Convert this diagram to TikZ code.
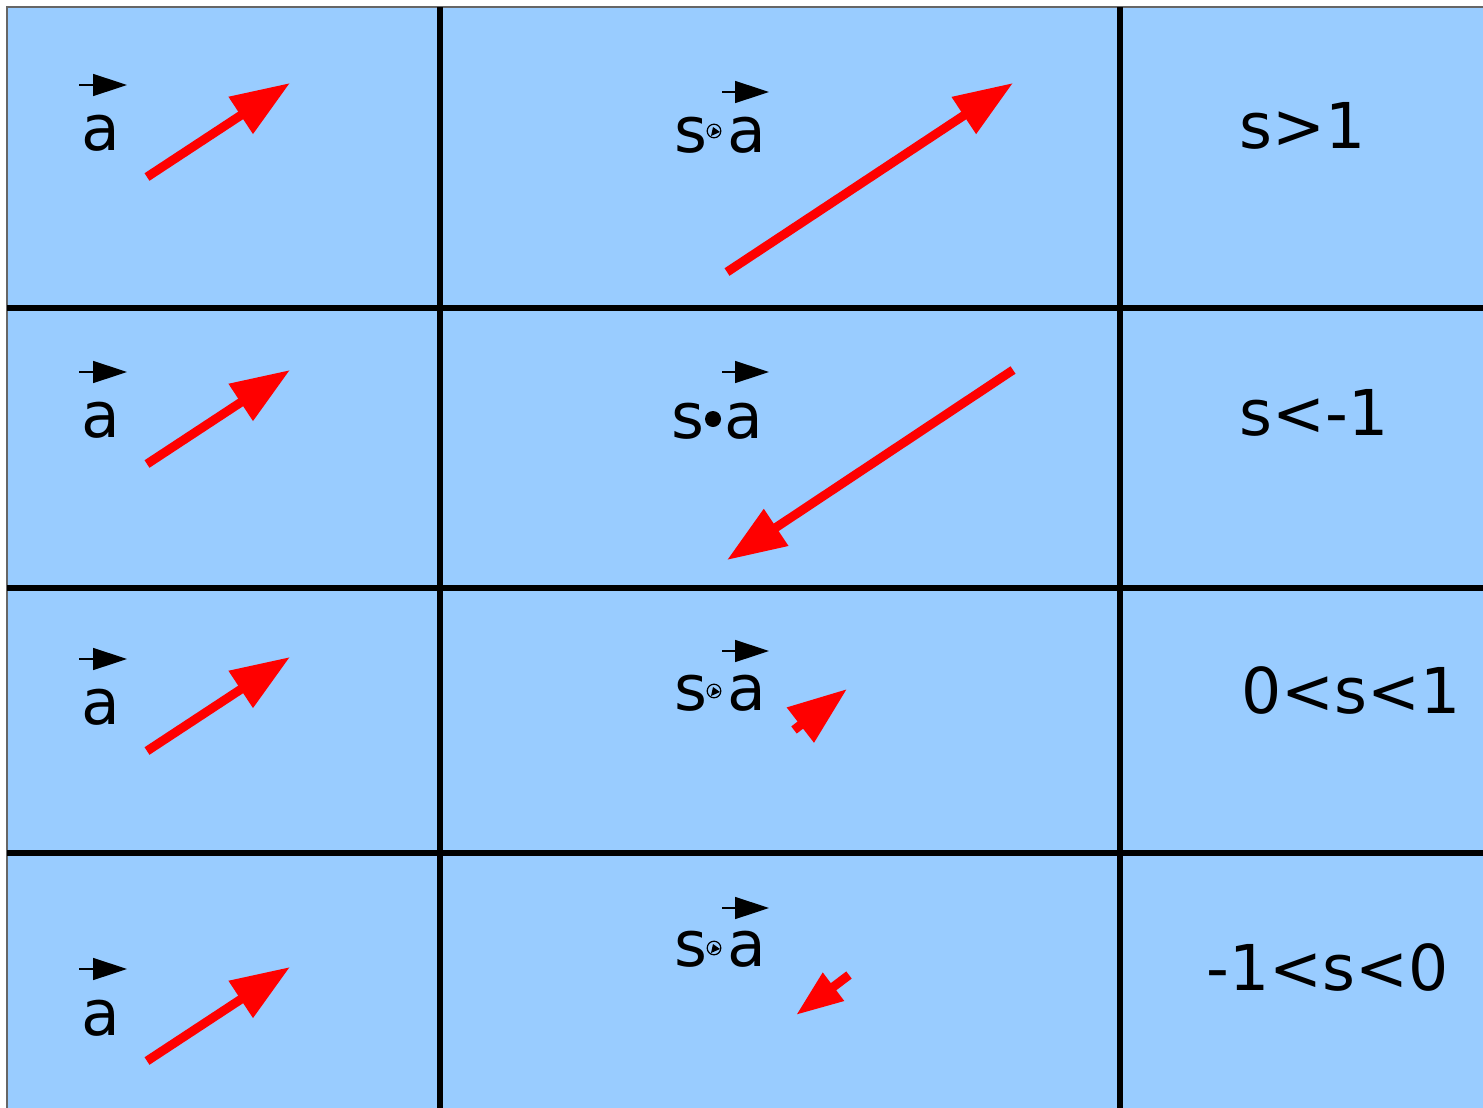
\documentclass[tikz,border=0pt]{standalone}
\usepackage{fontspec}
\setmainfont{DejaVu Sans}
\usetikzlibrary{arrows.meta}
\definecolor{cellblue}{HTML}{99CCFF}

\begin{document}
\begin{tikzpicture}[x=0.5pt, y=-0.5pt,
  redvec/.style={draw=red, line width=4.5pt, -{Triangle[length=29.5pt, width=21pt]}},
  smallvec/.style={draw=red, line width=4.5pt, -{Triangle[length=23.5pt, width=16.5pt]}},
  overvec/.style={line width=0.75pt, -{Triangle[length=17pt, width=11pt]}},
  lbl/.style={anchor=base west, inner sep=0pt, font=\fontsize{31.6}{36}\selectfont},
  gridline/.style={line width=3pt}]
\useasboundingbox (0,0) rectangle (1483,1108);
\fill[cellblue] (7,7) rectangle (1483,1108);
\draw[black!60, line width=0.75pt] (7,1108) -- (7,7) -- (1483,7);

% grid
\draw[gridline] (440,7) -- (440,1108);
\draw[gridline] (1120,7) -- (1120,1108);
\draw[gridline] (7,308) -- (1483,308);
\draw[gridline] (7,588) -- (1483,588);
\draw[gridline] (7,853) -- (1483,853);

% left column: the vector a
\node[lbl] (a1) at (81,150) {a};
\node[lbl] (a2) at (81,437) {a};
\node[lbl] (a3) at (81,724) {a};
\node[lbl] (a4) at (81,1035) {a};
\draw[overvec] (79,85) -- (127,85);
\draw[overvec] (79,372) -- (127,372);
\draw[overvec] (79,659) -- (127,659);
\draw[overvec] (79,969) -- (127,969);

% middle column: s times a
\node[lbl] (s1) at (674,152) {s};
\node[lbl] (sa1) at (727,152) {a};
\node[lbl] (s2) at (671,438) {s};
\node[lbl] (sa2) at (724,438) {a};
\node[lbl] (s3) at (674,710) {s};
\node[lbl] (sa3) at (727,710) {a};
\node[lbl] (s4) at (674,966) {s};
\node[lbl] (sa4) at (727,966) {a};
\draw[overvec] (722,92) -- (769,92);
\draw[overvec] (722,372) -- (769,372);
\draw[overvec] (722,651) -- (769,651);
\draw[overvec] (722,908) -- (769,908);
\fill (713,419) circle (4pt);
\foreach \gy in {131,691,948} {
  \draw[line width=0.6pt, fill=cellblue] (714,\gy) circle (3.4pt);
  \fill (711,\gy+5) -- (713,\gy-4) -- (720,\gy+1) -- cycle;
}

% right column: range of s
\node[lbl] (r1) at (1239,148) {s>1};
\node[lbl] (r2) at (1239,435) {s<-1};
\node[lbl] (r3) at (1241,713) {0<s<1};
\node[lbl] (r4) at (1206,990) {-1<s<0};

% red vectors
\coordinate (t1) at (147,177);  \coordinate (h1) at (290,83);
\coordinate (t2) at (147,464);  \coordinate (h2) at (290,370);
\coordinate (t3) at (147,751);  \coordinate (h3) at (290,657);
\coordinate (t4) at (147,1061); \coordinate (h4) at (290,967);
\coordinate (u1) at (727,272);  \coordinate (k1) at (1013,83);
\coordinate (u2) at (1013,370); \coordinate (k2) at (727,560);
\coordinate (u3) at (794,730);  \coordinate (k3) at (847,689);
\coordinate (u4) at (849,975);  \coordinate (k4) at (796,1015);
\draw[redvec] (t1) -- (h1);
\draw[redvec] (t2) -- (h2);
\draw[redvec] (t3) -- (h3);
\draw[redvec] (t4) -- (h4);
\draw[redvec] (u1) -- (k1);
\draw[redvec] (u2) -- (k2);
\draw[redvec] (u3) -- (k3);
\draw[smallvec] (u4) -- (k4);
\end{tikzpicture}
\end{document}
